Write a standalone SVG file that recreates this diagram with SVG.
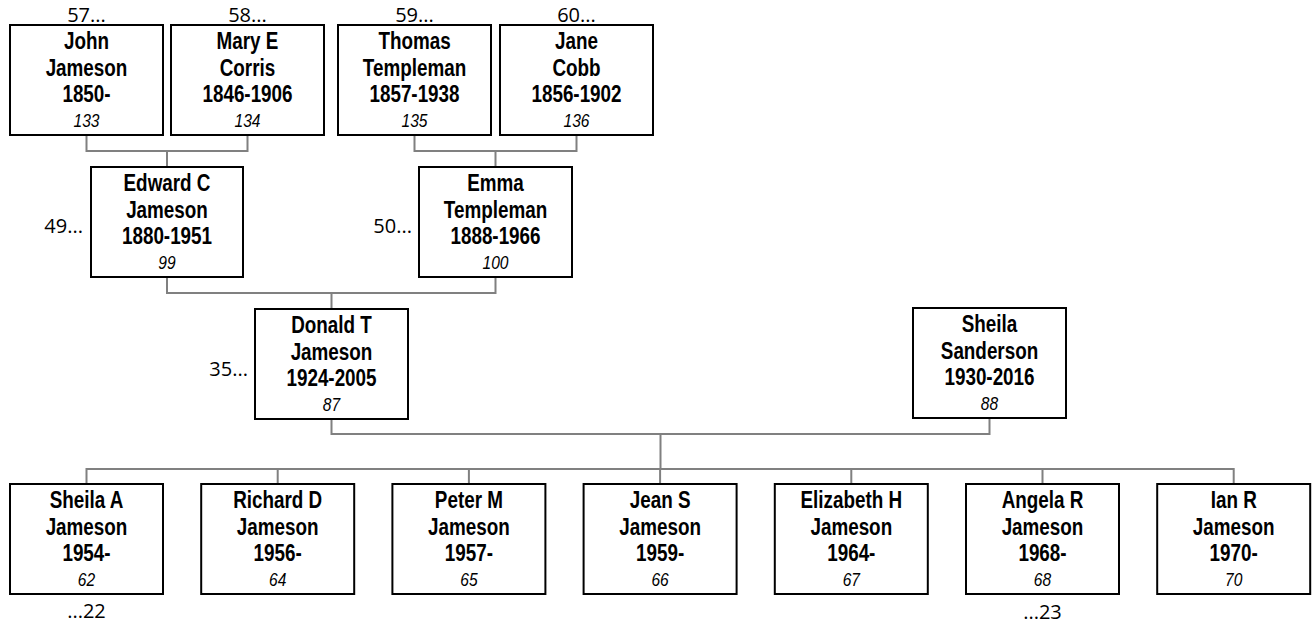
<svg xmlns="http://www.w3.org/2000/svg" width="1316" height="624" viewBox="0 0 1316 624">
<style>
.box{fill:#fff;stroke:#000;stroke-width:2}
.nm{font-family:"Liberation Sans",Arial,sans-serif;font-weight:bold;font-size:23px;text-anchor:middle;fill:#000}
.id{font-family:"Liberation Sans",Arial,sans-serif;font-style:italic;font-size:19px;text-anchor:middle;fill:#000}
.lb{font-family:"Open Sans","Noto Sans",sans-serif;font-size:20px;fill:#000}
.cn{fill:none;stroke:#808080;stroke-width:2}
</style>
<g id="connectors">
<path class="cn" d="M86.5,136 V151 H247.5 V136 M167,151 V167"/>
<path class="cn" d="M414.5,136 V151 H576.5 V136 M495.5,151 V167"/>
<path class="cn" d="M167,278 V293 H495.5 V278 M331.5,293 V309"/>
<path class="cn" d="M331.5,420 V434 H989.5 V419 M660.5,434 V469"/>
<path class="cn" d="M86.5,484 V469 H1233.7 V484 M277.7,469 V484 M468.9,469 V484 M660.1,469 V484 M851.3,469 V484 M1042.5,469 V484"/>
</g>
<g id="n133"><rect class="box" x="10" y="25" width="153" height="110"/><g transform="translate(86.5,0) scale(0.82,1)"><text class="nm"><tspan x="0" y="49">John</tspan><tspan x="0" y="76">Jameson</tspan><tspan x="0" y="102">1850-</tspan></text><text class="id" x="0" y="127">133</text></g><text class="lb" x="86.5" y="22" text-anchor="middle">57...</text></g>
<g id="n134"><rect class="box" x="171" y="25" width="153" height="110"/><g transform="translate(247.5,0) scale(0.82,1)"><text class="nm"><tspan x="0" y="49">Mary E</tspan><tspan x="0" y="76">Corris</tspan><tspan x="0" y="102">1846-1906</tspan></text><text class="id" x="0" y="127">134</text></g><text class="lb" x="247.5" y="22" text-anchor="middle">58...</text></g>
<g id="n135"><rect class="box" x="338" y="25" width="153" height="110"/><g transform="translate(414.5,0) scale(0.82,1)"><text class="nm"><tspan x="0" y="49">Thomas</tspan><tspan x="0" y="76">Templeman</tspan><tspan x="0" y="102">1857-1938</tspan></text><text class="id" x="0" y="127">135</text></g><text class="lb" x="414.5" y="22" text-anchor="middle">59...</text></g>
<g id="n136"><rect class="box" x="500" y="25" width="153" height="110"/><g transform="translate(576.5,0) scale(0.82,1)"><text class="nm"><tspan x="0" y="49">Jane</tspan><tspan x="0" y="76">Cobb</tspan><tspan x="0" y="102">1856-1902</tspan></text><text class="id" x="0" y="127">136</text></g><text class="lb" x="576.5" y="22" text-anchor="middle">60...</text></g>
<g id="n99"><rect class="box" x="91" y="167" width="152" height="110"/><g transform="translate(167,0) scale(0.82,1)"><text class="nm"><tspan x="0" y="191">Edward C</tspan><tspan x="0" y="218">Jameson</tspan><tspan x="0" y="244">1880-1951</tspan></text><text class="id" x="0" y="269">99</text></g><text class="lb" x="83" y="233" text-anchor="end">49...</text></g>
<g id="n100"><rect class="box" x="419" y="167" width="153" height="110"/><g transform="translate(495.5,0) scale(0.82,1)"><text class="nm"><tspan x="0" y="191">Emma</tspan><tspan x="0" y="218">Templeman</tspan><tspan x="0" y="244">1888-1966</tspan></text><text class="id" x="0" y="269">100</text></g><text class="lb" x="412" y="233" text-anchor="end">50...</text></g>
<g id="n87"><rect class="box" x="255" y="309" width="153" height="110"/><g transform="translate(331.5,0) scale(0.82,1)"><text class="nm"><tspan x="0" y="333">Donald T</tspan><tspan x="0" y="360">Jameson</tspan><tspan x="0" y="386">1924-2005</tspan></text><text class="id" x="0" y="411">87</text></g><text class="lb" x="248" y="376" text-anchor="end">35...</text></g>
<g id="n88"><rect class="box" x="913" y="308" width="153" height="110"/><g transform="translate(989.5,0) scale(0.82,1)"><text class="nm"><tspan x="0" y="332">Sheila</tspan><tspan x="0" y="359">Sanderson</tspan><tspan x="0" y="385">1930-2016</tspan></text><text class="id" x="0" y="410">88</text></g></g>
<g id="n62"><rect class="box" x="10" y="484" width="153" height="110"/><g transform="translate(86.5,0) scale(0.82,1)"><text class="nm"><tspan x="0" y="508">Sheila A</tspan><tspan x="0" y="535">Jameson</tspan><tspan x="0" y="561">1954-</tspan></text><text class="id" x="0" y="586">62</text></g><text class="lb" x="86.5" y="618" text-anchor="middle">...22</text></g>
<g id="n64"><rect class="box" x="201.2" y="484" width="153" height="110"/><g transform="translate(277.7,0) scale(0.82,1)"><text class="nm"><tspan x="0" y="508">Richard D</tspan><tspan x="0" y="535">Jameson</tspan><tspan x="0" y="561">1956-</tspan></text><text class="id" x="0" y="586">64</text></g></g>
<g id="n65"><rect class="box" x="392.4" y="484" width="153" height="110"/><g transform="translate(468.9,0) scale(0.82,1)"><text class="nm"><tspan x="0" y="508">Peter M</tspan><tspan x="0" y="535">Jameson</tspan><tspan x="0" y="561">1957-</tspan></text><text class="id" x="0" y="586">65</text></g></g>
<g id="n66"><rect class="box" x="583.6" y="484" width="153" height="110"/><g transform="translate(660.1,0) scale(0.82,1)"><text class="nm"><tspan x="0" y="508">Jean S</tspan><tspan x="0" y="535">Jameson</tspan><tspan x="0" y="561">1959-</tspan></text><text class="id" x="0" y="586">66</text></g></g>
<g id="n67"><rect class="box" x="774.8" y="484" width="153" height="110"/><g transform="translate(851.3,0) scale(0.82,1)"><text class="nm"><tspan x="0" y="508">Elizabeth H</tspan><tspan x="0" y="535">Jameson</tspan><tspan x="0" y="561">1964-</tspan></text><text class="id" x="0" y="586">67</text></g></g>
<g id="n68"><rect class="box" x="966" y="484" width="153" height="110"/><g transform="translate(1042.5,0) scale(0.82,1)"><text class="nm"><tspan x="0" y="508">Angela R</tspan><tspan x="0" y="535">Jameson</tspan><tspan x="0" y="561">1968-</tspan></text><text class="id" x="0" y="586">68</text></g><text class="lb" x="1042.5" y="619" text-anchor="middle">...23</text></g>
<g id="n70"><rect class="box" x="1157.2" y="484" width="153" height="110"/><g transform="translate(1233.7,0) scale(0.82,1)"><text class="nm"><tspan x="0" y="508">Ian R</tspan><tspan x="0" y="535">Jameson</tspan><tspan x="0" y="561">1970-</tspan></text><text class="id" x="0" y="586">70</text></g></g>
</svg>
